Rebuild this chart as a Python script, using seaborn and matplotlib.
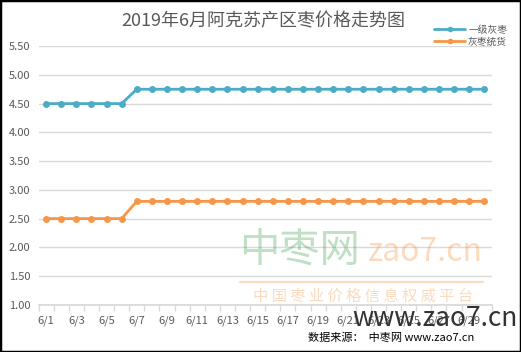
import matplotlib
matplotlib.use("Agg")
import matplotlib.pyplot as plt
import seaborn as sns
import pandas as pd
from matplotlib.patches import Rectangle
from matplotlib.lines import Line2D

days = [f"6/{d}" for d in range(1, 31)]
grade1 = [4.5] * 6 + [4.75] * 24
tongtong = [2.5] * 6 + [2.8] * 24
series_names = ["一级灰枣", "灰枣统货"]
colors = ["#4BACC6", "#F79646"]

sns.set_theme(style="white")
plt.rcParams["font.family"] = ["Noto Sans CJK SC", "DejaVu Sans"]

df = pd.DataFrame({"day": days * 2,
                   "price": grade1 + tongtong,
                   "series": [series_names[0]] * 30 + [series_names[1]] * 30})

fig = plt.figure(figsize=(5.21, 3.52), dpi=100)
ax = fig.add_axes([0.074, 0.134, 0.870, 0.735])
sns.lineplot(data=df, x="day", y="price", hue="series", palette=colors,
             marker="o", markersize=5, markeredgewidth=0, linewidth=2,
             ax=ax, legend=False, sort=False)

ax.set_xlim(-0.5, 29.5)
ax.set_ylim(1.0, 5.5)
ax.set_yticks([1.0 + 0.5 * i for i in range(10)])
ax.set_yticklabels([f"{1.0 + 0.5 * i:.2f}" for i in range(10)])
ax.set_xticks(range(0, 30, 2))
ax.set_xticklabels(days[::2])
ax.set_xticks([i - 0.5 for i in range(31)], minor=True)
ax.set_xlabel("")
ax.set_ylabel("")
ax.grid(axis="y", color="#D9D9D9", linewidth=1)
for s in ["top", "right", "left"]:
    ax.spines[s].set_visible(False)
ax.spines["bottom"].set_color("#D9D9D9")
ax.tick_params(axis="both", labelsize=8, colors="#595959", length=0, pad=6)
ax.tick_params(axis="x", which="minor", length=4, color="#D9D9D9", bottom=True)
ax.tick_params(axis="x", which="major", length=0, pad=8)

fig.text(0.505, 0.94, "2019年6月阿克苏产区枣价格走势图", ha="center", va="center",
         fontsize=13, color="#595959")

handles = [Line2D([0], [0], color=c, marker="o", markersize=4, linewidth=2, markeredgewidth=0)
           for c in colors]
fig.legend(handles, series_names, loc="upper right", bbox_to_anchor=(0.99, 0.955),
           frameon=False, fontsize=7, handlelength=3.2, handletextpad=0.3,
           labelspacing=0.2, labelcolor="#595959")

# watermark
fig.text(0.575, 0.29, "中枣网", ha="center", va="center", fontsize=29,
         color="#2E9A3C", alpha=0.3)
fig.text(0.817, 0.285, "zao7.cn", ha="center", va="center", fontsize=23,
         color="#F79646", alpha=0.35)
fig.add_artist(Line2D([0.46, 0.928], [0.198, 0.198], transform=fig.transFigure,
                      color="#F79646", alpha=0.35, linewidth=1.5))
fig.text(0.697, 0.157, "中 国 枣 业 价 格 信 息 权 威 平 台", ha="center", va="center",
         fontsize=11, color="#F79646", alpha=0.35)
fig.text(0.835, 0.095, "www.zao7.cn", ha="center", va="center", fontsize=19,
         color="#333333")
fig.text(0.75, 0.04, "数据来源：  中枣网 www.zao7.cn", ha="center", va="center",
         fontsize=8, color="#000000")

fig.add_artist(Rectangle((0, 0), 1, 1, transform=fig.transFigure, fill=False,
                         edgecolor="black", linewidth=2.5))

fig.savefig("out.png", dpi=100)
